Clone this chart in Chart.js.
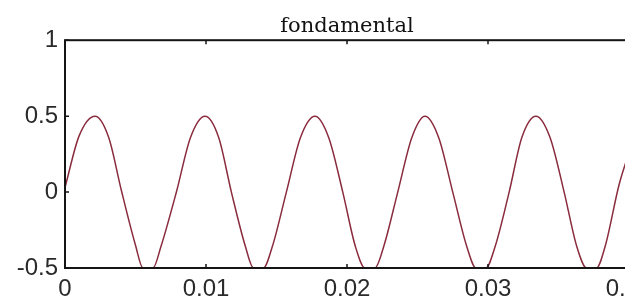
<!DOCTYPE html>
<html><head><meta charset="utf-8">
<script src="https://cdn.jsdelivr.net/npm/chart.js@4"></script>
<style>html,body{margin:0;padding:0;background:#fff;overflow:hidden}canvas{display:block}</style>
</head><body>
<canvas id="c" width="632" height="302" style="width:632px;height:302px"></canvas>
<script>
const chartTitle = 'fondamental';
const timeValues = [0, 0.0010, 0.00213, 0.0031, 0.0040, 0.0050, 0.00553, 0.00624, 0.0068, 0.0079,
  0.0089, 0.00993, 0.0109, 0.0118, 0.0128, 0.01337, 0.01407, 0.0147, 0.0157, 0.0167,
  0.01773, 0.0187, 0.0197, 0.0206, 0.02128, 0.02198, 0.0226, 0.0236, 0.0246, 0.02553,
  0.0265, 0.0275, 0.0285, 0.02915, 0.02985, 0.0305, 0.0315, 0.0324, 0.0334, 0.0344,
  0.0354, 0.0363, 0.03699, 0.03769, 0.0383, 0.0393, 0.0400];
const signalValues = [0.03, 0.37, 0.5, 0.36, 0.01, -0.35, -0.5, -0.5, -0.36, 0,
  0.36, 0.5, 0.36, 0, -0.36, -0.5, -0.5, -0.36, 0, 0.36,
  0.5, 0.36, 0, -0.36, -0.5, -0.5, -0.36, 0, 0.36, 0.5,
  0.36, 0, -0.36, -0.5, -0.5, -0.36, 0, 0.36, 0.5, 0.36,
  0, -0.36, -0.5, -0.5, -0.36, 0.05, 0.26];
const xTickValues = [0, 0.01, 0.02, 0.03, 0.04];
const xTickLabels = ['0', '0.01', '0.02', '0.03', '0.04'];
const yTickValues = [-0.5, 0, 0.5, 1];
const yTickLabels = ['-0.5', '0', '0.5', '1'];

const points = timeValues.map((t, i) => ({ x: t, y: signalValues[i] }));

const framePlugin = {
  id: 'frame',
  afterDraw(chart) {
    const { ctx, chartArea: a, scales: { x, y } } = chart;
    ctx.save();
    ctx.strokeStyle = '#151515';
    ctx.lineWidth = 2;
    ctx.strokeRect(a.left, a.top, a.right - a.left, a.bottom - a.top);
    ctx.lineWidth = 1.5;
    const L = 4;
    ctx.beginPath();
    xTickValues.forEach(v => {
      const px = x.getPixelForValue(v);
      ctx.moveTo(px, a.top); ctx.lineTo(px, a.top + L);
      ctx.moveTo(px, a.bottom); ctx.lineTo(px, a.bottom - L);
    });
    yTickValues.forEach(v => {
      const py = y.getPixelForValue(v);
      ctx.moveTo(a.left, py); ctx.lineTo(a.left + L, py);
      ctx.moveTo(a.right, py); ctx.lineTo(a.right - L, py);
    });
    ctx.stroke();
    ctx.restore();
  }
};

new Chart(document.getElementById('c'), {
  type: 'line',
  data: {
    datasets: [{
      data: points,
      borderColor: '#8a2c3d',
      borderWidth: 1.5,
      pointRadius: 0,
      fill: false,
      cubicInterpolationMode: 'monotone'
    }]
  },
  options: {
    responsive: false,
    animation: false,
    layout: { padding: { left: 0, right: 3, top: 0, bottom: 0 } },
    plugins: {
      legend: { display: false },
      tooltip: { enabled: false },
      title: {
        display: true,
        text: chartTitle,
        fullSize: false,
        color: '#111',
        font: { family: 'DejaVu Serif', size: 21, weight: 'normal', lineHeight: 1.2 },
        padding: { top: 14, bottom: 1 }
      }
    },
    scales: {
      x: {
        type: 'linear',
        min: 0, max: 0.04,
        grid: { display: false, drawTicks: false },
        border: { display: false },
        afterBuildTicks(s) { s.ticks = xTickValues.map(v => ({ value: v })); },
        afterFit(s) { s.height = 34; s.paddingLeft = 0; s.paddingRight = 0; },
        ticks: {
          color: '#2a2a2a',
          padding: 7,
          maxRotation: 0,
          autoSkip: false,
          font: { family: 'Liberation Sans', size: 24 },
          callback: (v) => { const i = xTickValues.findIndex(t => Math.abs(t - v) < 1e-9); return i >= 0 ? xTickLabels[i] : ''; }
        }
      },
      y: {
        type: 'linear',
        min: -0.5, max: 1,
        grid: { display: false, drawTicks: false },
        border: { display: false },
        afterBuildTicks(s) { s.ticks = yTickValues.map(v => ({ value: v })); },
        afterFit(s) { s.width = 65; s.paddingTop = 0; s.paddingBottom = 0; },
        ticks: {
          color: '#2a2a2a',
          padding: 7,
          autoSkip: false,
          font: { family: 'Liberation Sans', size: 24 },
          callback: (v) => { const i = yTickValues.findIndex(t => Math.abs(t - v) < 1e-9); return i >= 0 ? yTickLabels[i] : ''; }
        }
      }
    }
  },
  plugins: [framePlugin]
});
</script>
</body></html>
